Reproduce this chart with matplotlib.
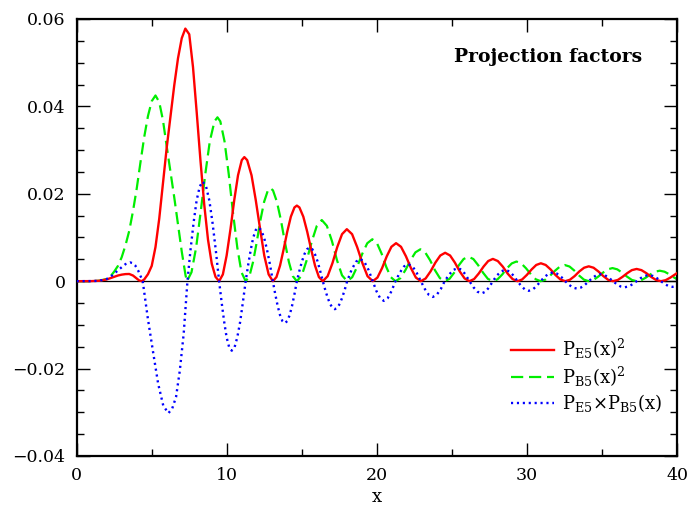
import matplotlib
matplotlib.use('Agg')
import matplotlib.pyplot as plt

# values
red_x = [0.0, 0.5, 1.0, 1.5, 2.0, 2.25, 2.5, 2.75, 3.0, 3.25, 3.5, 3.75, 4.0, 4.15, 4.33,
         4.5, 4.75, 5.0, 5.25, 5.5, 5.75, 6.0, 6.25, 6.5, 6.75, 7.0, 7.24, 7.5, 7.75, 8.0, 8.25, 8.5, 8.75, 9.0, 9.25, 9.49,
         9.74, 9.99, 10.25, 10.50, 10.75, 11.00, 11.17, 11.36, 11.65, 11.93, 12.22, 12.50, 12.79, 13.07,
         13.31, 13.55, 13.79, 14.03, 14.27, 14.51, 14.67, 14.84, 15.10, 15.36, 15.62, 15.88, 16.14, 16.40,
         16.72, 17.04, 17.36, 17.68, 18.00, 18.35, 18.69, 19.04, 19.38, 19.73,
         20.04, 20.35, 20.66, 20.97, 21.28, 21.61, 21.94, 22.27, 22.60, 22.93,
         23.25, 23.58, 23.90, 24.23, 24.55, 24.88, 25.20, 25.52, 25.85, 26.17,
         26.48, 26.79, 27.11, 27.42, 27.73, 28.06, 28.39, 28.71, 29.04, 29.37,
         29.68, 29.99, 30.31, 30.62, 30.93, 31.25, 31.58, 31.90, 32.23, 32.55,
         32.86, 33.18, 33.49, 33.81, 34.12, 34.44, 34.76, 35.09, 35.41, 35.73,
         36.05, 36.36, 36.68, 36.99, 37.31, 37.63, 37.96, 38.28, 38.61, 38.93,
         39.24, 39.56, 39.87, 40.0]
red_y = [0, 0, 0.00002, 0.0001, 0.0004, 0.0007, 0.001, 0.0013, 0.0015, 0.00162, 0.00165, 0.0013, 0.0006, 0.0002, 0,
         0.0004, 0.0016, 0.0035, 0.0078, 0.0143, 0.0225, 0.0306, 0.0378, 0.0448, 0.0510, 0.0556, 0.0578, 0.0565, 0.0490, 0.0385, 0.0275, 0.0175, 0.0095, 0.0040, 0.0010, 0,
         0.00155, 0.00585, 0.01198, 0.01859, 0.02424, 0.02770, 0.0284, 0.02770, 0.02424, 0.01859, 0.01198, 0.00585, 0.00155, 0,
         0.00094, 0.00357, 0.00730, 0.01132, 0.01477, 0.01688, 0.0173, 0.01688, 0.01477, 0.01132, 0.00730, 0.00357, 0.00094, 0,
         0.00114, 0.00411, 0.00779, 0.01076, 0.0119, 0.01076, 0.00779, 0.00411, 0.00114, 0,
         0.00083, 0.00301, 0.00569, 0.00787, 0.0087, 0.00787, 0.00569, 0.00301, 0.00083, 0,
         0.00062, 0.00225, 0.00425, 0.00588, 0.0065, 0.00588, 0.00425, 0.00225, 0.00062, 0,
         0.00049, 0.00176, 0.00334, 0.00461, 0.0051, 0.00461, 0.00334, 0.00176, 0.00049, 0,
         0.00039, 0.00142, 0.00268, 0.00371, 0.0041, 0.00371, 0.00268, 0.00142, 0.00039, 0,
         0.00032, 0.00117, 0.00223, 0.00308, 0.0034, 0.00308, 0.00223, 0.00117, 0.00032, 0,
         0.00027, 0.00097, 0.00183, 0.00253, 0.0028, 0.00253, 0.00183, 0.00097, 0.00027, 0,
         0.00023, 0.00083, 0.00157, 0.00185]

green_x = [0.0, 0.5, 1.0, 1.5, 2.0, 2.25, 2.5, 2.75, 3.0, 3.25, 3.5, 3.75, 4.0, 4.25, 4.5, 4.75, 5.0, 5.25, 5.5, 5.75,
           6.0, 6.25, 6.5, 6.75, 7.0, 7.15, 7.25, 7.35,
           7.65, 7.96, 8.26, 8.57, 8.87, 9.18, 9.38, 9.57, 9.85, 10.13, 10.41, 10.70, 10.98, 11.26,
           11.51, 11.75, 12.00, 12.24, 12.49, 12.74, 12.90, 13.08, 13.34, 13.61, 13.87, 14.14, 14.40, 14.67,
           15.00, 15.33, 15.67, 16.00, 16.33, 16.67, 17.01, 17.34, 17.68, 18.02,
           18.36, 18.69, 19.03, 19.36, 19.70, 20.01, 20.32, 20.62, 20.93, 21.24,
           21.57, 21.90, 22.24, 22.57, 22.90, 23.22, 23.55, 23.87, 24.20, 24.52,
           24.84, 25.15, 25.47, 25.78, 26.10, 26.43, 26.75, 27.08, 27.40, 27.73,
           28.04, 28.36, 28.67, 28.99, 29.30, 29.62, 29.94, 30.27, 30.59, 30.91,
           31.23, 31.55, 31.88, 32.20, 32.52, 32.84, 33.16, 33.48, 33.80, 34.12,
           34.44, 34.75, 35.07, 35.38, 35.70, 36.02, 36.34, 36.67, 36.99, 37.31,
           37.62, 37.93, 38.23, 38.54, 38.85, 39.17, 39.49, 39.81, 40.0]
green_y = [0, 0, 0.00002, 0.0001, 0.0005, 0.0011, 0.0022, 0.0035, 0.0055, 0.0082, 0.0115, 0.0160, 0.0212, 0.0272, 0.0330,
           0.0378, 0.0412, 0.0425, 0.0410, 0.0368, 0.0308, 0.0250, 0.0192, 0.0130, 0.0068, 0.0035, 0.0014, 0,
           0.00204, 0.00773, 0.01582, 0.02454, 0.03201, 0.03658, 0.0375, 0.03658, 0.03201, 0.02454, 0.01582, 0.00773, 0.00204, 0,
           0.00116, 0.00439, 0.00898, 0.01394, 0.01818, 0.02078, 0.0213, 0.02078, 0.01818, 0.01394, 0.00898, 0.00439, 0.00116, 0,
           0.00134, 0.00484, 0.00916, 0.01266, 0.0140, 0.01266, 0.00916, 0.00484, 0.00134, 0,
           0.00092, 0.00332, 0.00628, 0.00868, 0.0096, 0.00868, 0.00628, 0.00332, 0.00092, 0,
           0.0007, 0.00252, 0.00478, 0.0066, 0.0073, 0.0066, 0.00478, 0.00252, 0.0007, 0,
           0.00053, 0.00193, 0.00367, 0.00507, 0.0056, 0.00507, 0.00367, 0.00193, 0.00053, 0,
           0.00043, 0.00155, 0.00295, 0.00407, 0.0045, 0.00407, 0.00295, 0.00155, 0.00043, 0,
           0.00035, 0.00128, 0.00242, 0.00335, 0.0037, 0.00335, 0.00242, 0.00128, 0.00035, 0,
           0.00029, 0.00104, 0.00196, 0.00271, 0.0030, 0.00271, 0.00196, 0.00104, 0.00029, 0,
           0.00023, 0.00083, 0.00157, 0.00217, 0.0024, 0.00217, 0.00157, 0.00083, 0.00044]

blue_x = [0.0, 0.5, 1.0, 1.5, 2.0, 2.25, 2.5, 2.75, 3.0, 3.25, 3.55, 3.75, 3.9, 4.1, 4.25, 4.40,
          4.74, 5.08, 5.43, 5.77, 6.11, 6.36, 6.62, 6.87, 7.13, 7.38,
          7.58, 7.79, 7.99, 8.20, 8.40, 8.62, 8.84, 9.05, 9.27, 9.49,
          9.66, 9.83, 9.99, 10.16, 10.33, 10.52, 10.70, 10.89, 11.07, 11.26,
          11.43, 11.60, 11.76, 11.93, 12.10, 12.29, 12.49, 12.68, 12.88, 13.07,
          13.23, 13.39, 13.55, 13.71, 13.87, 14.03, 14.19, 14.35, 14.51, 14.67,
          14.84, 15.01, 15.18, 15.35, 15.52, 15.70, 15.87, 16.05, 16.22, 16.40,
          16.56, 16.72, 16.88, 17.04, 17.20, 17.36, 17.53, 17.69, 17.86, 18.02,
          18.31, 18.60, 18.89, 19.17, 19.45, 19.73,
          19.97, 20.22, 20.46, 20.72, 20.98, 21.24,
          21.53, 21.81, 22.10, 22.38, 22.65, 22.93,
          23.20, 23.46, 23.73, 23.99, 24.26, 24.52,
          24.81, 25.11, 25.40, 25.66, 25.91, 26.17,
          26.44, 26.71, 26.98, 27.23, 27.48, 27.73,
          28.00, 28.28, 28.55, 28.82, 29.10, 29.37,
          29.62, 29.87, 30.12, 30.38, 30.65, 30.91,
          31.18, 31.46, 31.73, 32.00, 32.28, 32.55,
          32.81, 33.07, 33.33, 33.59, 33.86, 34.12,
          34.38, 34.64, 34.90, 35.18, 35.45, 35.73,
          35.99, 36.24, 36.50, 36.77, 37.04, 37.31,
          37.58, 37.85, 38.12, 38.39, 38.66, 38.93,
          39.18, 39.44, 39.69, 39.94, 40.0]
blue_y = [0, 0, 0.00002, 0.0001, 0.0005, 0.0010, 0.0017, 0.0025, 0.0032, 0.0039, 0.0043, 0.0041, 0.0036, 0.0024, 0.0012, 0,
          -0.0085, -0.0160, -0.0235, -0.0285, -0.0302, -0.0292, -0.0265, -0.0205, -0.0120, 0,
          0.00705, 0.0134, 0.01845, 0.02169, 0.0228, 0.02169, 0.01845, 0.0134, 0.00705, 0,
          -0.00491, -0.00935, -0.01286, -0.01512, -0.0159, -0.01512, -0.01286, -0.00935, -0.00491, 0,
          0.0038, 0.00723, 0.00995, 0.0117, 0.0123, 0.0117, 0.00995, 0.00723, 0.0038, 0,
          -0.00297, -0.00564, -0.00777, -0.00913, -0.0096, -0.00913, -0.00777, -0.00564, -0.00297, 0,
          0.00238, 0.00453, 0.00623, 0.00732, 0.0077, 0.00732, 0.00623, 0.00453, 0.00238, 0,
          -0.00198, -0.00376, -0.00518, -0.00609, -0.0064, -0.00609, -0.00518, -0.00376, -0.00198, 0,
          0.00255, 0.00442, 0.0051, 0.00442, 0.00255, 0,
          -0.00225, -0.0039, -0.0045, -0.0039, -0.00225, 0,
          0.00195, 0.00338, 0.0039, 0.00338, 0.00195, 0,
          -0.0018, -0.00312, -0.0036, -0.00312, -0.0018, 0,
          0.0015, 0.0026, 0.0030, 0.0026, 0.0015, 0,
          -0.0014, -0.00242, -0.0028, -0.00242, -0.0014, 0,
          0.0013, 0.00225, 0.0026, 0.00225, 0.0013, 0,
          -0.0011, -0.00191, -0.0022, -0.00191, -0.0011, 0,
          0.0010, 0.00173, 0.0020, 0.00173, 0.0010, 0,
          -0.00085, -0.00147, -0.0017, -0.00147, -0.00085, 0,
          0.0008, 0.00139, 0.0016, 0.00139, 0.0008, 0,
          -0.0007, -0.00121, -0.0014, -0.00121, -0.0007, 0,
          0.0007, 0.00121, 0.0014, 0.00121, 0.0007, 0,
          -0.00065, -0.00113, -0.0013, -0.00113, -0.00104]

labels = [r'$\mathrm{P_{E5}(x)^2}$', r'$\mathrm{P_{B5}(x)^2}$', r'$\mathrm{P_{E5}{\times}P_{B5}(x)}$']
x_ticks = [0, 10, 20, 30, 40]
y_ticks = [-0.04, -0.02, 0, 0.02, 0.04, 0.06]
y_ticklabels = ['\u22120.04', '\u22120.02', '0', '0.02', '0.04', '0.06']

assert len(red_x) == len(red_y) and len(green_x) == len(green_y) and len(blue_x) == len(blue_y), \
    (len(red_x), len(red_y), len(green_x), len(green_y), len(blue_x), len(blue_y))

plt.rcParams['font.family'] = ['DejaVu Serif']
plt.rcParams['mathtext.fontset'] = 'dejavuserif'

fig = plt.figure(figsize=(6.89, 5.08), dpi=100)
ax = fig.add_axes([0.1113, 0.1024, 0.8713, 0.8602])

ax.axhline(0, color='black', lw=0.9, zorder=1)
ax.plot(red_x, red_y, color='#ff0000', lw=1.7, label=labels[0], zorder=3)
ax.plot(green_x, green_y, color='#00ee00', lw=1.6, dashes=(5.5, 2.6), label=labels[1], zorder=2)
ax.plot(blue_x, blue_y, color='#0000ff', lw=1.7, linestyle=(0, (0.9, 1.6)), label=labels[2], zorder=4)

ax.set_xlim(0, 40)
ax.set_ylim(-0.04, 0.06)
ax.set_xticks(x_ticks)
ax.set_xticks([5, 15, 25, 35], minor=True)
ax.set_yticks(y_ticks)
ax.set_yticklabels(y_ticklabels)
ax.set_yticks([-0.035, -0.03, -0.025, -0.015, -0.01, -0.005, 0.005, 0.01, 0.015,
               0.025, 0.03, 0.035, 0.045, 0.05, 0.055], minor=True)
ax.tick_params(which='both', direction='in', top=True, right=True, width=1.0, labelsize=12.5, pad=8)
ax.tick_params(which='major', length=9.5)
ax.tick_params(which='minor', length=5)
for s in ax.spines.values():
    s.set_linewidth(1.6)

ax.set_xlabel('x', fontsize=13, labelpad=3)

ax.text(0.942, 0.914, 'Projection factors', transform=ax.transAxes, ha='right', va='center',
        fontsize=13.5, fontweight='bold')

leg = ax.legend(loc='upper left', bbox_to_anchor=(0.724, 0.272), frameon=False, fontsize=13,
                handlelength=2.35, handletextpad=0.45, labelspacing=0.18, borderpad=0, borderaxespad=0)

fig.savefig('out.png', dpi=100)
